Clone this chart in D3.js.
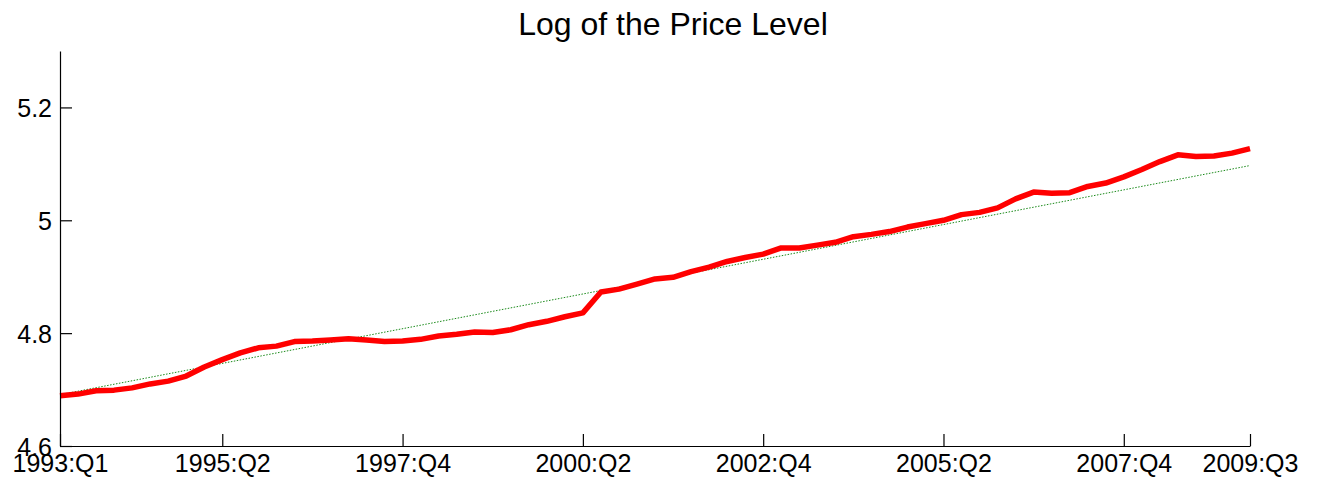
<!DOCTYPE html>
<html>
<head>
<meta charset="utf-8">
<script src="https://cdn.jsdelivr.net/npm/d3@7"></script>
<style>
  body { margin: 0; background: #fff; }
  text { font-family: "Liberation Sans", Arial, sans-serif; fill: #000; }
</style>
</head>
<body>
<div id="app"></div>
<script>
'use strict'
// quarters 1993:Q1 .. 2009:Q3, index 0..66
const quarters = d3.range(67).map(i => {
  const y = 1993 + Math.floor(i / 4)
  return `${y}:Q${(i % 4) + 1}`
})
const logPrice = [
  4.689, 4.692, 4.698, 4.699, 4.703, 4.710, 4.715, 4.724, 4.740, 4.753,
  4.765, 4.774, 4.777, 4.785, 4.786, 4.788, 4.790, 4.788, 4.785, 4.786,
  4.789, 4.795, 4.798, 4.802, 4.801, 4.806, 4.815, 4.821, 4.829, 4.836,
  4.873, 4.878, 4.887, 4.896, 4.899, 4.909, 4.917, 4.927, 4.934, 4.940,
  4.951, 4.951, 4.956, 4.961, 4.971, 4.975, 4.980, 4.988, 4.994, 5.000,
  5.010, 5.014, 5.022, 5.038, 5.050, 5.048, 5.049, 5.060, 5.066, 5.077,
  5.090, 5.104, 5.116, 5.113, 5.114, 5.119, 5.127
]
// linear trend, end points
const trendIdx = [0, 66]
const trendVal = [4.691, 5.097]
const xTickIdx = [0, 9, 19, 29, 39, 49, 59, 66]
const yTicks = [4.6, 4.8, 5.0, 5.2]

const W = 1320, H = 488
const margin = { top: 51, right: 70, bottom: 42, left: 60 }

const svg = d3.select('#app').append('svg')
  .attr('width', W)
  .attr('height', H)

const x = d3.scaleLinear().domain([0, 66]).range([margin.left, 1250])
const y = d3.scaleLinear().domain([4.6, 5.3]).range([446, margin.top])

// trend line (dotted green)
svg.append('path')
  .datum(trendIdx.map((d, i) => [d, trendVal[i]]))
  .attr('fill', 'none')
  .attr('stroke', '#1a8a1a')
  .attr('stroke-width', 1)
  .attr('stroke-dasharray', '1.5,1.5')
  .attr('d', d3.line().x(d => x(d[0])).y(d => y(d[1])))

// log price level (thick red)
svg.append('path')
  .datum(logPrice)
  .attr('fill', 'none')
  .attr('stroke', '#ff0000')
  .attr('stroke-width', 5.5)
  .attr('stroke-linejoin', 'round')
  .attr('d', d3.line().x((d, i) => x(i)).y(d => y(d)))

// axes, ticks pointing inward
const xAxis = d3.axisBottom(x)
  .tickValues(xTickIdx)
  .tickFormat(i => quarters[i])
  .tickSizeInner(-12)
  .tickSizeOuter(0)
  .tickPadding(15)
const gx = svg.append('g')
  .attr('transform', `translate(0,${y(4.6)})`)
  .call(xAxis)

const yAxis = d3.axisLeft(y)
  .tickValues(yTicks)
  .tickFormat(d3.format('~g'))
  .tickSizeInner(-12)
  .tickSizeOuter(0)
  .tickPadding(8)
const gy = svg.append('g')
  .attr('transform', `translate(${x(0)},0)`)
  .call(yAxis)

for (const g of [gx, gy]) {
  g.select('.domain').attr('stroke', '#000').attr('stroke-width', 1.2)
  g.selectAll('.tick line').attr('stroke', '#000').attr('stroke-width', 1.2)
  g.selectAll('text')
    .style('font-family', '"Liberation Sans", Arial, sans-serif')
    .style('font-size', '25px')
    .attr('fill', '#000')
}
gx.selectAll('.tick text').attr('dy', '0.45em')
gy.selectAll('.tick text').attr('dy', '0.36em')

svg.append('text')
  .attr('x', 673)
  .attr('y', 35)
  .attr('text-anchor', 'middle')
  .style('font-size', '32px')
  .text('Log of the Price Level')
</script>
</body>
</html>
